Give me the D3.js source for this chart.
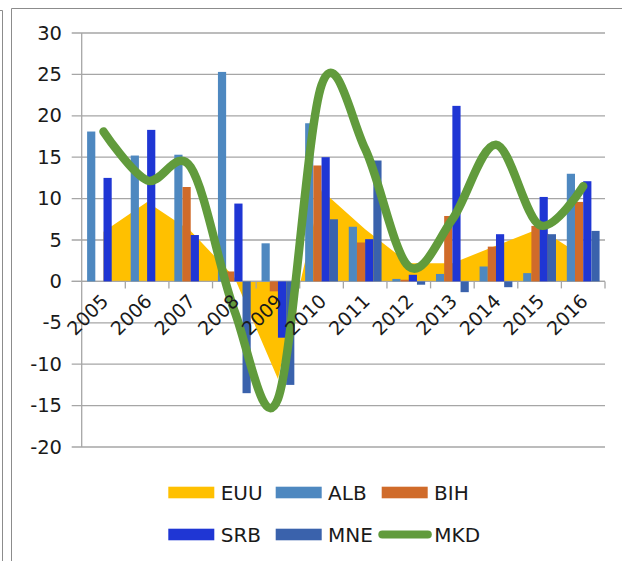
<!DOCTYPE html>
<html><head><meta charset="utf-8">
<script src="https://d3js.org/d3.v7.min.js"></script>
<style>
html,body{margin:0;padding:0;background:#fff;}
svg{display:block;}
text{font-family:"DejaVu Sans",sans-serif;fill:#1a1a1a;}
</style></head>
<body>
<svg id="c" width="622" height="561"></svg>
<script>
const years = ["2005","2006","2007","2008","2009","2010","2011","2012","2013","2014","2015","2016"];
const EUU = [6.0, 9.6, 6.1, 0.5, -11.8, 11.0, 6.3, 2.2, 2.2, 4.3, 6.4, 3.0];
const ALB = [18.1, 15.2, 15.3, 25.3, 4.6, 19.1, 6.6, 0.3, 0.9, 1.8, 1.0, 13.0];
const BIH = [null, null, 11.4, 1.2, -1.2, 14.0, 4.7, 0.2, 7.9, 4.2, 6.7, 9.6];
const SRB = [12.5, 18.3, 5.6, 9.4, -6.8, 15.0, 5.1, 0.8, 21.2, 5.7, 10.2, 12.1];
const MNE = [null, null, null, -13.5, -12.5, 7.5, 14.6, -0.4, -1.3, -0.7, 5.7, 6.1];
const MKD = [18.1, 12.2, 13.8, -3.5, -14.2, 23.7, 16.0, 1.8, 7.5, 16.5, 6.8, 11.5];
const yTicks = [-20, -15, -10, -5, 0, 5, 10, 15, 20, 25, 30];
const barSeries = ["ALB", "BIH", "SRB", "MNE"];
const barValues = {ALB, BIH, SRB, MNE};
const colors = {EUU:"#FFC000", ALB:"#4E88C0", BIH:"#D06B2A", SRB:"#1F36D4", MNE:"#3A62AC", MKD:"#619B3C"};

const svg = d3.select("#c");
const L = 81.7, R = 605, T = 33, B = 447;

// outer frames
svg.append("path").attr("d","M0,10.5 H2.5 V561").attr("fill","none").attr("stroke","#8c8c8c").attr("stroke-width",1);
svg.append("path").attr("d","M11.5,561 V8.5 H622").attr("fill","none").attr("stroke","#8c8c8c").attr("stroke-width",1);

const x = d3.scaleBand().domain(years).range([L, R]).paddingInner(0).paddingOuter(0);
const xb = d3.scaleBand().domain(barSeries).range([0, x.bandwidth()]).paddingInner(0).paddingOuter(0.66);
const y = d3.scaleLinear().domain([-20, 30]).range([B, T]);
const cx = d => x(d) + x.bandwidth()/2;

// gridlines + y tick marks
const g = svg.append("g");
g.selectAll("line.grid").data(yTicks).join("line")
  .attr("x1", L - 10).attr("x2", R)
  .attr("y1", d => y(d)).attr("y2", d => y(d))
  .attr("stroke", "#a6a6a6").attr("stroke-width", 1.3);
g.append("line").attr("x1", L).attr("x2", L).attr("y1", T).attr("y2", B)
  .attr("stroke", "#a6a6a6").attr("stroke-width", 1.3);

// y labels
g.selectAll("text.yl").data(yTicks).join("text")
  .attr("x", 62).attr("y", d => y(d)).attr("text-anchor", "end")
  .attr("dominant-baseline", "central").style("font-size", "19.5px").text(d => d);

// EUU area
const area = d3.area().x((d, i) => cx(years[i])).y0(y(0)).y1(d => y(d));
svg.append("path").datum(EUU).attr("d", area).attr("fill", colors.EUU);

// x axis line at 0 + ticks
const xa = svg.append("g");
xa.append("line").attr("x1", L - 10).attr("x2", R).attr("y1", y(0)).attr("y2", y(0))
  .attr("stroke", "#a6a6a6").attr("stroke-width", 1.3);
const boundaries = years.map(d => x(d)).concat([R]);
xa.selectAll("line.tk").data(boundaries.slice(1)).join("line")
  .attr("x1", d => d).attr("x2", d => d).attr("y1", y(0)).attr("y2", y(0) + 7)
  .attr("stroke", "#a6a6a6").attr("stroke-width", 1.3);

// bars
barSeries.forEach(s => {
  svg.append("g").selectAll("rect").data(barValues[s].map((v, i) => ({v, yr: years[i]})).filter(d => d.v !== null))
    .join("rect")
    .attr("x", d => x(d.yr) + xb(s))
    .attr("width", xb.bandwidth())
    .attr("y", d => y(Math.max(0, d.v)))
    .attr("height", d => Math.abs(y(d.v) - y(0)))
    .attr("fill", colors[s]);
});

// MKD line
const line = d3.line().x((d, i) => cx(years[i])).y(d => y(d)).curve(d3.curveCardinal.tension(0));
svg.append("path").datum(MKD).attr("d", line).attr("fill", "none")
  .attr("stroke", colors.MKD).attr("stroke-width", 8.5).attr("stroke-linecap", "round").attr("stroke-linejoin", "round");

// x labels rotated
svg.append("g").selectAll("text").data(years).join("text")
  .attr("text-anchor", "end").attr("dominant-baseline", "central")
  .attr("transform", d => `translate(${cx(d) + 1},${y(0) + 16}) rotate(-45)`)
  .style("font-size", "19px").text(d => d);

// legend
const legend = [
  {k:"EUU", type:"rect", x:168.3, y:492.5},
  {k:"ALB", type:"rect", x:275.7, y:492.5},
  {k:"BIH", type:"rect", x:381.7, y:492.5},
  {k:"SRB", type:"rect", x:168.3, y:534.5},
  {k:"MNE", type:"rect", x:275.7, y:534.5},
  {k:"MKD", type:"line", x:378.3, y:534.5}
];
const lg = svg.append("g");
legend.forEach(it => {
  if (it.type === "rect") {
    lg.append("rect").attr("x", it.x).attr("y", it.y - 5.8).attr("width", 46).attr("height", 11.6).attr("fill", colors[it.k]);
    lg.append("text").attr("x", it.x + 52.4).attr("y", it.y).attr("dominant-baseline", "central").style("font-size", "20px").text(it.k);
  } else {
    lg.append("line").attr("x1", it.x + 4).attr("x2", it.x + 49.5).attr("y1", it.y).attr("y2", it.y)
      .attr("stroke", colors[it.k]).attr("stroke-width", 8).attr("stroke-linecap", "round");
    lg.append("text").attr("x", 434.3).attr("y", it.y).attr("dominant-baseline", "central").style("font-size", "20px").text(it.k);
  }
});
</script>
</body></html>
